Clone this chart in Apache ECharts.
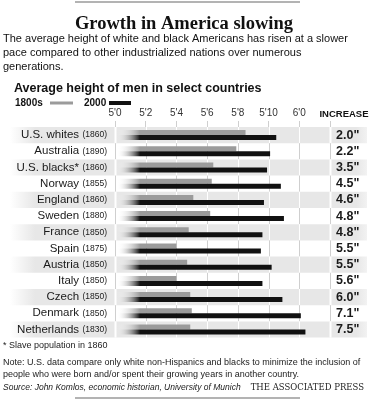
<!DOCTYPE html>
<html>
<head>
<meta charset="utf-8">
<script src="https://cdn.jsdelivr.net/npm/echarts@6/dist/echarts.min.js"></script>
<style>
  html, body { margin: 0; padding: 0; background: #fff; }
  #chart { width: 370px; height: 400px; }
</style>
</head>
<body>
<div id="chart"></div>
<script>
// ---- data ----
const categories = ['U.S. whites', 'Australia', 'U.S. blacks*', 'Norway', 'England', 'Sweden', 'France', 'Spain', 'Austria', 'Italy', 'Czech', 'Denmark', 'Netherlands'];
const startYears = ['1860', '1890', '1860', '1855', '1860', '1880', '1850', '1875', '1850', '1850', '1850', '1850', '1830'];
const heights1800s = [68.5, 67.9, 66.4, 66.3, 65.1, 66.2, 64.8, 64.0, 64.7, 64.0, 64.9, 65.0, 64.9];
const heights2000 = [70.5, 70.1, 69.9, 70.8, 69.7, 71.0, 69.6, 69.5, 70.2, 69.6, 70.9, 72.1, 72.4];
const increases = ['2.0"', '2.2"', '3.5"', '4.5"', '4.6"', '4.8"', '4.8"', '5.5"', '5.5"', '5.6"', '6.0"', '7.1"', '7.5"'];
const tickLabels = ["5'0", "5'2", "5'4", "5'6", "5'8", "5'10", "6'0"];
const axisMin = 60, axisMax = 74, axisStep = 2;

const SANS = "'Liberation Sans', Arial, sans-serif";
const SERIF = "'Liberation Serif', 'Times New Roman', serif";

const chart = echarts.init(document.getElementById('chart'), null, { renderer: 'canvas' });

const GRID_LEFT = 115, GRID_RIGHT_X = 330, GRID_TOP = 127, ROW_H = 16.2;

function fadeGrad(color) {
  return {
    type: 'linear', global: true,
    x: GRID_LEFT + 2, y: 0, x2: GRID_LEFT + 25, y2: 0,
    colorStops: [
      { offset: 0, color: 'rgba(255,255,255,0)' },
      { offset: 1, color: color }
    ]
  };
}

const option = {
  animation: false,
  backgroundColor: '#fff',
  grid: {
    left: GRID_LEFT,
    right: 370 - GRID_RIGHT_X,
    top: GRID_TOP,
    height: ROW_H * categories.length,
    containLabel: false
  },
  xAxis: {
    type: 'value',
    position: 'top',
    min: axisMin, max: axisMax, interval: axisStep,
    z: 5,
    axisLine: { show: false },
    axisTick: { show: true, length: 6, lineStyle: { color: '#cfcfcf', width: 1 } },
    splitLine: { show: false },
    axisLabel: {
      margin: 9,
      color: '#333',
      fontFamily: SANS,
      fontSize: 10,
      formatter: v => tickLabels[Math.round((v - axisMin) / axisStep)] || ''
    }
  },
  yAxis: [
    {
      type: 'category',
      data: categories,
      inverse: true,
      z: 5,
      axisLine: { show: false },
      axisTick: { show: false },
      splitLine: { show: false },
      axisLabel: {
        interval: 0,
        margin: 8,
        formatter: (v, i) => '{n|' + v + '} {y|(' + startYears[i] + ')}',
        rich: {
          n: { fontFamily: SANS, fontSize: 11.5, color: '#1a1a1a' },
          y: { fontFamily: SANS, fontSize: 8.5, color: '#1a1a1a' }
        }
      }
    },
    {
      type: 'category',
      data: increases,
      inverse: true,
      position: 'right',
      z: 5,
      axisLine: { show: false },
      axisTick: { show: false },
      splitLine: { show: false },
      axisLabel: {
        interval: 0,
        margin: 6,
        fontFamily: SANS,
        fontSize: 12.5,
        fontWeight: 'bold',
        color: '#1a1a1a'
      }
    }
  ],
  series: [
    {
      type: 'custom',
      name: 'bands',
      silent: true,
      clip: false,
      z: 1,
      data: categories.map((c, i) => [axisMin, i]),
      renderItem: function (params, api) {
        const i = params.dataIndex;
        const center = api.coord([axisMin, i]);
        const h = api.size([0, 1])[1];
        const top = center[1] - h / 2;
        const gray = i % 2 === 0;
        const children = [];
        if (gray) {
          children.push({
            type: 'rect',
            shape: { x: 10, y: top, width: 357, height: h },
            style: {
              fill: {
                type: 'linear', x: 0, y: 0, x2: 1, y2: 0,
                colorStops: [
                  { offset: 0, color: '#ffffff' },
                  { offset: 0.07, color: '#e7e7e7' },
                  { offset: 0.97, color: '#e7e7e7' },
                  { offset: 1, color: '#f2f2f2' }
                ]
              }
            }
          });
        }
        for (let v = axisMin; v <= axisMax; v += axisStep) {
          const x = Math.round(api.coord([v, i])[0]) + 0.5;
          const edge = (v === axisMin || v === axisMax);
          children.push({
            type: 'line',
            shape: { x1: x, y1: top, x2: x, y2: top + h },
            style: { stroke: gray ? '#ffffff' : '#cfcfcf', lineWidth: gray && edge ? 2 : 1 }
          });
        }
        return { type: 'group', children: children };
      }
    },
    {
      type: 'bar',
      name: '1800s',
      data: heights1800s,
      barWidth: 5,
      barGap: '0%',
      z: 2,
      itemStyle: { color: fadeGrad('#9b9b9b') }
    },
    {
      type: 'bar',
      name: '2000',
      data: heights2000,
      barWidth: 5,
      barGap: '0%',
      z: 2,
      itemStyle: { color: fadeGrad('#111111') }
    }
  ],
  graphic: [
    { type: 'line', shape: { x1: 75, y1: 2, x2: 300, y2: 2 }, style: { stroke: '#9a9a9a', lineWidth: 1.5 } },
    { type: 'text', x: 184, y: 24, style: { text: 'Growth in America slowing', font: 'bold 18.5px ' + SERIF, fill: '#111', align: 'center', verticalAlign: 'middle' } },
    { type: 'text', x: 3, y: 32, style: { text: 'The average height of white and black Americans has risen at a slower\npace compared to other industrialized nations over numerous\ngenerations.', font: '11px ' + SANS, lineHeight: 14, fill: '#111', align: 'left', verticalAlign: 'top' } },
    { type: 'text', x: 14, y: 89, style: { text: 'Average height of men in select countries', font: 'bold 12.5px ' + SANS, fill: '#111', align: 'left', verticalAlign: 'middle' } },
    { type: 'text', x: 15, y: 103, style: { text: '1800s', font: 'bold 10px ' + SANS, fill: '#111', align: 'left', verticalAlign: 'middle' } },
    { type: 'rect', shape: { x: 50, y: 101.5, width: 23, height: 3 }, style: { fill: '#9b9b9b' } },
    { type: 'text', x: 84, y: 103, style: { text: '2000', font: 'bold 10px ' + SANS, fill: '#111', align: 'left', verticalAlign: 'middle' } },
    { type: 'rect', shape: { x: 109, y: 101, width: 22, height: 4 }, style: { fill: '#111' } },
    { type: 'text', x: 344, y: 114, style: { text: 'INCREASE', font: 'bold 9.5px ' + SANS, fill: '#111', align: 'center', verticalAlign: 'middle' } },
    { type: 'text', x: 3, y: 346, style: { text: '* Slave population in 1860', font: '9px ' + SANS, fill: '#222', align: 'left', verticalAlign: 'middle' } },
    { type: 'text', x: 3, y: 357, style: { text: 'Note: U.S. data compare only white non-Hispanics and blacks to minimize the inclusion of\npeople who were born and/or spent their growing years in another country.', font: '9px ' + SANS, lineHeight: 11.5, fill: '#222', align: 'left', verticalAlign: 'top' } },
    { type: 'text', x: 3, y: 388, style: { text: 'Source: John Komlos, economic historian, University of Munich', font: 'italic 8.5px ' + SANS, fill: '#222', align: 'left', verticalAlign: 'middle' } },
    { type: 'text', x: 364, y: 388, style: { text: 'THE ASSOCIATED PRESS', font: '8.5px ' + "'DejaVu Serif', serif", fill: '#222', align: 'right', verticalAlign: 'middle' } },
    { type: 'line', shape: { x1: 75, y1: 398, x2: 300, y2: 398 }, style: { stroke: '#9a9a9a', lineWidth: 1.5 } }
  ]
};

chart.setOption(option);
</script>
</body>
</html>
